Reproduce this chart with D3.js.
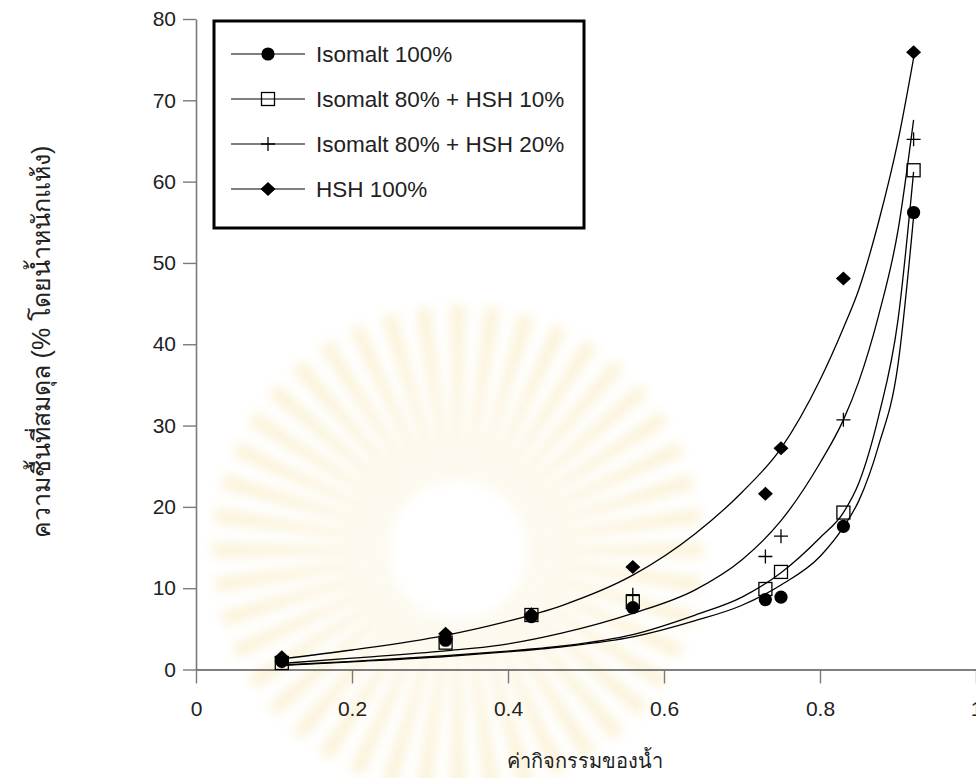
<!DOCTYPE html>
<html>
<head>
<meta charset="utf-8">
<script src="https://cdn.jsdelivr.net/npm/d3@7"></script>
<style>
  body { margin: 0; background: #fff; }
  svg text { font-family: "Liberation Sans", Arial, sans-serif; }
</style>
</head>
<body>
<div id="chart"></div>
<script>
// water activity of the measured samples
var aw = [0.11, 0.32, 0.43, 0.56, 0.73, 0.75, 0.83, 0.92];

// equilibrium moisture content (% dry basis)
var isomalt100 = [1.0, 3.6, 6.5, 7.6, 8.6, 8.9, 17.6, 56.2];
var isoHsh10   = [0.8, 3.3, 6.7, 8.3, 9.9, 12.0, 19.3, 61.4];
var isoHsh20   = [1.0, 3.8, 6.6, 9.2, 13.9, 16.4, 30.7, 65.2];
var hsh100     = [1.5, 4.4, 6.8, 12.6, 21.6, 27.2, 48.1, 75.9];

// fitted curves
var fitAw = [0.11, 0.2, 0.32, 0.39, 0.47, 0.56, 0.64, 0.7, 0.75, 0.8, 0.83, 0.85, 0.875, 0.9, 0.92];
var fitIsomalt100 = [0.5, 0.95, 1.6, 2.1, 2.8, 4.0, 6.0, 7.9, 10.4, 13.9, 17.5, 20.8, 27.5, 37.5, 55.7];
var fitIsoHsh10   = [0.55, 1.0, 1.7, 2.2, 2.9, 4.3, 6.7, 8.9, 11.9, 16.2, 19.3, 23.0, 31.1, 43.0, 61.2];
var fitIsoHsh20   = [0.75, 1.4, 2.3, 3.0, 4.5, 6.9, 9.8, 13.5, 18.3, 25.4, 30.7, 35.5, 43.5, 54.0, 67.6];
var fitHsh100     = [1.3, 2.4, 4.2, 5.7, 7.9, 11.6, 16.7, 21.8, 27.2, 35.6, 42.0, 46.8, 55.0, 65.0, 75.2];

var seriesNames = ['Isomalt 100%', 'Isomalt 80% + HSH 10%', 'Isomalt 80% + HSH 20%', 'HSH  100%'];
var xTicks = [0, 0.2, 0.4, 0.6, 0.8, 1];
var yTicks = [0, 10, 20, 30, 40, 50, 60, 70, 80];

var series = [
  {name: seriesNames[0], marker: 'circle', values: isomalt100, fit: fitIsomalt100},
  {name: seriesNames[1], marker: 'square', values: isoHsh10, fit: fitIsoHsh10},
  {name: seriesNames[2], marker: 'plus', values: isoHsh20, fit: fitIsoHsh20},
  {name: seriesNames[3], marker: 'diamond', values: hsh100, fit: fitHsh100}
];

var width = 976,
    height = 778;

var svg = d3.select('#chart')
  .append('svg')
  .attr('width', width)
  .attr('height', height);

var x = d3.scaleLinear().domain([0, 1]).range([196, 976]);
var y = d3.scaleLinear().domain([0, 80]).range([669.5, 19]);

// faint watermark rays behind the plot
var wm = svg.append('g').attr('transform', 'translate(458,550)').attr('opacity', 0.28);
var blur = svg.append('defs').append('filter').attr('id', 'soft')
  .attr('x', '-50%').attr('y', '-50%').attr('width', '200%').attr('height', '200%');
blur.append('feGaussianBlur').attr('stdDeviation', 6);
var rayArc = d3.arc().innerRadius(70).outerRadius(245);
wm.append('g').attr('filter', 'url(#soft)')
  .selectAll('path')
  .data(d3.range(44))
  .enter()
  .append('path')
  .attr('d', function(i) {
    var a = i / 44 * 2 * Math.PI;
    return rayArc({startAngle: a - 0.03, endAngle: a + 0.03});
  })
  .attr('fill', '#efcf70');

// axes
var yAxis = svg.append('g')
  .attr('transform', 'translate(196,0)')
  .call(d3.axisLeft(y).tickValues(yTicks).tickSize(13).tickSizeOuter(0).tickPadding(7));
yAxis.select('.domain').attr('stroke', '#7a7a7a').attr('stroke-width', 1.6);
yAxis.selectAll('.tick line').attr('stroke', '#7a7a7a').attr('stroke-width', 1.4);
yAxis.selectAll('.tick text').attr('font-size', 21).attr('fill', '#222')
  .attr('font-family', '"Liberation Sans", Arial, sans-serif');

var xAxis = svg.append('g')
  .attr('transform', 'translate(0,669.5)')
  .call(d3.axisBottom(x).tickValues(xTicks).tickSize(14).tickSizeOuter(0).tickPadding(18)
    .tickFormat(function(d) { return d === 0 || d === 1 ? d : d3.format('.1f')(d); }));
xAxis.select('.domain').attr('stroke', '#555').attr('stroke-width', 1.6);
xAxis.selectAll('.tick line').attr('stroke', '#7a7a7a').attr('stroke-width', 1.4);
xAxis.selectAll('.tick text').attr('font-size', 21).attr('fill', '#222')
  .attr('font-family', '"Liberation Sans Narrow", "Liberation Sans", Arial, sans-serif');

// axis titles
svg.append('text')
  .attr('x', 585).attr('y', 768)
  .attr('text-anchor', 'middle')
  .attr('font-size', 20)
  .attr('fill', '#222')
  .text('ค่ากิจกรรมของน้ำ');

svg.append('text')
  .attr('transform', 'translate(50,342) rotate(-90)')
  .attr('text-anchor', 'middle')
  .attr('font-size', 25)
  .attr('fill', '#222')
  .text('ความชื้นที่สมดุล (% โดยน้ำหนักแห้ง)');

// fitted curves
var line = d3.line()
  .x(function(d) { return x(d[0]); })
  .y(function(d) { return y(d[1]); })
  .curve(d3.curveMonotoneX);

svg.append('g').selectAll('path')
  .data(series)
  .enter()
  .append('path')
  .attr('d', function(s) { return line(d3.zip(fitAw, s.fit)); })
  .attr('fill', 'none')
  .attr('stroke', '#000')
  .attr('stroke-width', 1.3);

function drawMarker(g, type) {
  if (type === 'circle') {
    g.append('circle').attr('r', 6.6).attr('fill', '#000');
  } else if (type === 'square') {
    g.append('rect').attr('x', -6.5).attr('y', -6.5).attr('width', 13).attr('height', 13)
      .attr('fill', 'none').attr('stroke', '#000').attr('stroke-width', 1.3);
  } else if (type === 'plus') {
    g.append('path').attr('d', 'M-7,0H7M0,-7V7')
      .attr('stroke', '#000').attr('stroke-width', 1.3);
  } else {
    g.append('path').attr('d', 'M0,-7L7.5,0L0,7L-7.5,0Z').attr('fill', '#000');
  }
}

// data markers
series.forEach(function(s) {
  var pts = svg.append('g').selectAll('g')
    .data(d3.zip(aw, s.values))
    .enter()
    .append('g')
    .attr('transform', function(d) { return 'translate(' + x(d[0]) + ',' + y(d[1]) + ')'; });
  pts.each(function() { drawMarker(d3.select(this), s.marker); });
});

// legend
var legend = svg.append('g');
legend.append('rect')
  .attr('x', 214).attr('y', 21).attr('width', 370).attr('height', 207)
  .attr('fill', '#fff').attr('stroke', '#000').attr('stroke-width', 3);

var rowY = d3.scalePoint().domain(seriesNames).range([54, 189]);
series.forEach(function(s) {
  var row = legend.append('g').attr('transform', 'translate(0,' + rowY(s.name) + ')');
  row.append('line').attr('x1', 231).attr('x2', 305).attr('stroke', '#000').attr('stroke-width', 1.2);
  drawMarker(row.append('g').attr('transform', 'translate(268,0)'), s.marker);
  row.append('text')
    .attr('x', 316).attr('dy', '0.36em')
    .attr('font-size', 22.5)
    .attr('fill', '#222')
    .text(s.name);
});
</script>
</body>
</html>
